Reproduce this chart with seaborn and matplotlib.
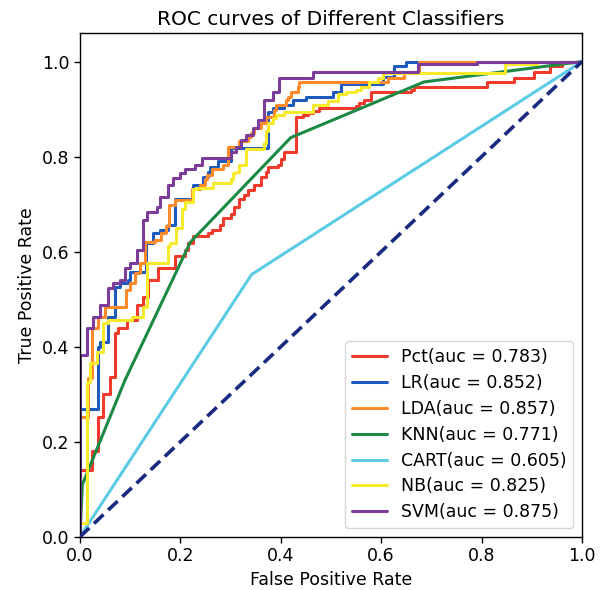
import seaborn as sns
from matplotlib import pyplot as plt
import pandas as pd

# ROC data (step curves: x = where tpr rises, y = tpr after the rise)
pct_fpr = [0, 0, 0.024, 0.036, 0.046, 0.06, 0.07, 0.076, 0.094, 0.114, 0.126, 0.136, 0.156, 0.19,
           0.21, 0.216, 0.226, 0.256, 0.264, 0.28, 0.286, 0.30, 0.306, 0.316, 0.326, 0.334, 0.346,
           0.36, 0.37, 0.374, 0.394, 0.40, 0.406, 0.43, 0.444, 0.454, 0.464, 0.476, 0.55, 0.556,
           0.566, 0.58, 0.66, 0.666, 0.81, 0.864, 0.904, 0.936, 0.96, 1.0]
pct_tpr = [0, 0.14, 0.18, 0.253, 0.30, 0.337, 0.43, 0.44, 0.457, 0.488, 0.505, 0.541, 0.566, 0.59,
           0.604, 0.619, 0.632, 0.64, 0.646, 0.657, 0.67, 0.68, 0.693, 0.71, 0.72, 0.73, 0.741,
           0.758, 0.768, 0.779, 0.783, 0.794, 0.81, 0.884, 0.888, 0.892, 0.895, 0.903, 0.906, 0.913,
           0.92, 0.937, 0.941, 0.947, 0.956, 0.966, 0.979, 0.99, 1.0, 1.0]

lr_fpr = [0, 0, 0.036, 0.04, 0.056, 0.07, 0.08, 0.096, 0.10, 0.132, 0.146, 0.16, 0.176, 0.19,
          0.224, 0.226, 0.246, 0.256, 0.26, 0.276, 0.30, 0.374, 0.384, 0.406, 0.424, 0.45, 0.504,
          0.52, 0.604, 0.626, 0.65, 1.0]
lr_tpr = [0, 0.27, 0.40, 0.41, 0.463, 0.526, 0.535, 0.541, 0.558, 0.619, 0.64, 0.646, 0.657, 0.71,
          0.714, 0.741, 0.758, 0.768, 0.779, 0.79, 0.819, 0.893, 0.903, 0.909, 0.92, 0.926, 0.937,
          0.952, 0.968, 0.99, 1.0, 1.0]

lda_fpr = [0, 0, 0.016, 0.024, 0.036, 0.05, 0.092, 0.10, 0.11, 0.12, 0.13, 0.15, 0.162, 0.172,
           0.178, 0.19, 0.224, 0.24, 0.25, 0.254, 0.264, 0.286, 0.296, 0.316, 0.334, 0.34, 0.346,
           0.36, 0.37, 0.386, 0.39, 0.41, 0.414, 0.42, 0.434, 0.436, 0.614, 0.646, 0.676, 1.0]
lda_tpr = [0, 0.253, 0.335, 0.44, 0.463, 0.484, 0.52, 0.535, 0.555, 0.577, 0.621, 0.625, 0.64, 0.655,
           0.699, 0.709, 0.731, 0.741, 0.752, 0.762, 0.773, 0.783, 0.821, 0.832, 0.842, 0.85, 0.861,
           0.871, 0.884, 0.899, 0.909, 0.92, 0.926, 0.937, 0.947, 0.956, 0.966, 0.979, 1.0, 1.0]

knn_fpr = [0, 0.005, 0.09, 0.22, 0.42, 0.685, 1.0]
knn_tpr = [0, 0.11, 0.33, 0.62, 0.84, 0.957, 1.0]

cart_fpr = [0, 0.342, 1.0]
cart_tpr = [0, 0.552, 1.0]

nb_fpr = [0, 0, 0.014, 0.02, 0.034, 0.046, 0.056, 0.104, 0.126, 0.134, 0.176, 0.18, 0.192, 0.204,
          0.21, 0.226, 0.234, 0.266, 0.30, 0.304, 0.31, 0.316, 0.33, 0.366, 0.37, 0.374, 0.384,
          0.39, 0.406, 0.464, 0.494, 0.514, 0.53, 0.55, 0.56, 0.576, 0.594, 0.604, 0.846, 0.91, 1.0]
nb_tpr = [0, 0.03, 0.326, 0.366, 0.39, 0.45, 0.457, 0.463, 0.484, 0.577, 0.611, 0.619, 0.65, 0.69,
          0.705, 0.731, 0.735, 0.745, 0.752, 0.766, 0.768, 0.783, 0.815, 0.829, 0.853, 0.871, 0.882,
          0.888, 0.893, 0.909, 0.916, 0.931, 0.937, 0.941, 0.947, 0.956, 0.966, 0.975, 0.995, 1.0, 1.0]

svm_fpr = [0, 0, 0.014, 0.026, 0.04, 0.056, 0.066, 0.08, 0.09, 0.10, 0.114, 0.126, 0.134, 0.154,
           0.16, 0.176, 0.186, 0.20, 0.21, 0.23, 0.244, 0.30, 0.31, 0.32, 0.33, 0.344, 0.354, 0.366,
           0.384, 0.396, 0.464, 0.674, 0.79, 1.0]
svm_tpr = [0, 0.383, 0.44, 0.463, 0.488, 0.524, 0.535, 0.54, 0.566, 0.577, 0.604, 0.667, 0.684, 0.695,
           0.716, 0.741, 0.756, 0.766, 0.773, 0.783, 0.798, 0.81, 0.821, 0.836, 0.846, 0.861, 0.878, 0.92,
           0.937, 0.966, 0.977, 0.994, 1.0, 1.0]

names = ['Pct', 'LR', 'LDA', 'KNN', 'CART', 'NB', 'SVM']
aucs = [0.783, 0.852, 0.857, 0.771, 0.605, 0.825, 0.875]
colors = ['#f03a2c', '#1f5bbf', '#ff8a2a', '#1b8a44', '#5ccbe6', '#f7ea2a', '#7b3d99']
curves = [(pct_fpr, pct_tpr, True), (lr_fpr, lr_tpr, True), (lda_fpr, lda_tpr, True),
          (knn_fpr, knn_tpr, False), (cart_fpr, cart_tpr, False), (nb_fpr, nb_tpr, True),
          (svm_fpr, svm_tpr, True)]

sns.set_theme(style='ticks')
plt.rcParams['font.family'] = ['DejaVu Sans']
plt.rcParams['font.size'] = 12.5
for key in ['text.color', 'axes.labelcolor', 'xtick.color', 'ytick.color']:
    plt.rcParams[key] = 'black'

fig = plt.figure(figsize=(6.05, 5.9), dpi=100)
ax = fig.add_axes([0.132, 0.09, 0.830, 0.854])

for name, auc, col, (fpr, tpr, step) in zip(names, aucs, colors, curves):
    df = pd.DataFrame({'fpr': fpr, 'tpr': tpr})
    sns.lineplot(
        data=df, x='fpr', y='tpr', ax=ax,
        estimator=None, sort=False,
        drawstyle='steps-post' if step else 'default',
        color=col, lw=2.2, label='%s(auc = %.3f)' % (name, auc),
    )

diag = pd.DataFrame({'fpr': [0, 1], 'tpr': [0, 1]})
sns.lineplot(data=diag, x='fpr', y='tpr', ax=ax, estimator=None, color='#1a2a80',
             lw=2.6, linestyle=(0, (3.6, 1.8)), zorder=5)

ax.set_xlim(0, 1.0)
ax.set_ylim(0, 1.06)
ax.set_xticks([0, 0.2, 0.4, 0.6, 0.8, 1.0])
ax.set_yticks([0, 0.2, 0.4, 0.6, 0.8, 1.0])
ax.tick_params(labelsize=12.5, length=4, width=1, color='black')
for s in ax.spines.values():
    s.set_color('black')
    s.set_linewidth(1)
ax.set_xlabel('False Positive Rate', fontsize=12.5)
ax.set_ylabel('True Positive Rate', fontsize=12.5)
ax.set_title('ROC curves of Different Classifiers', fontsize=14.5, pad=6)
ax.legend(loc='lower right', fontsize=12.5, frameon=True, handlelength=2, labelspacing=0.45)

fig.savefig('out.png', dpi=100)
